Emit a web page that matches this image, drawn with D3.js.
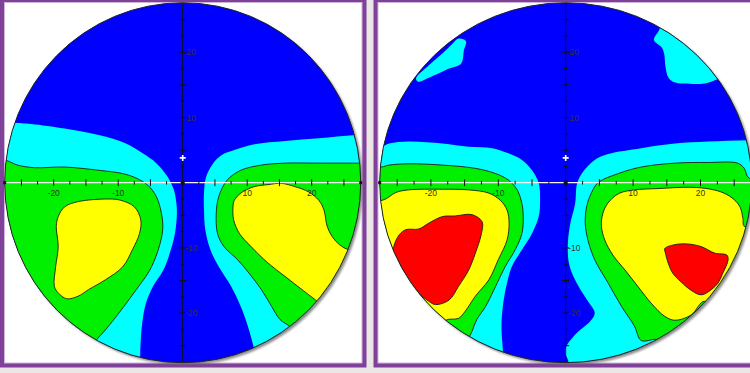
<!DOCTYPE html>
<html><head><meta charset="utf-8">
<script src="https://cdn.jsdelivr.net/npm/d3@7"></script>
<style>html,body{margin:0;padding:0;background:#ece6e6;} svg{display:block}</style>
</head><body><svg id="c" width="750" height="373"></svg>
<script>
// ---- data (units of the plot axes) ----
const levelColors = ["#0000ff", "#00ffff", "#00f000", "#ffff00", "#ff0000"];
const xTickLabels = [-20, -10, 10, 20];
const yTickLabels = [20, 10, -10, -20];
const R = 27.6;                 // radius of the plot domain
const markerPoint = [0, 3.8];   // white cross marker

// Left panel contour regions
const A_cyan = [
  [[-34,9.3],[-26.4,9.2],[-23.5,9.0],[-18.3,8.3],[-13.0,7.3],[-8.8,6.0],[-6.2,4.5],[-4.1,3.0],[-2.4,1.0],[-1.4,-1.0],[-1.0,-3.0],[-0.9,-4.7],[-1.2,-7.8],[-2.0,-10.8],[-3.0,-13.4],[-4.6,-15.9],[-5.7,-18.5],[-6.2,-21.0],[-6.5,-24.1],[-6.6,-27.4],[-6.6,-32],[-34,-32]],
  [[12.5,-32],[11.1,-25.6],[10.1,-22.0],[9.0,-19.0],[7.5,-15.9],[5.6,-12.9],[4.3,-10.3],[3.5,-7.2],[3.3,-4.2],[3.3,-1.6],[3.6,0.8],[4.6,2.8],[6.0,4.2],[8.0,5.0],[11.1,5.9],[15.9,6.4],[21.1,6.8],[26.9,7.3],[34,7.5],[34,-32]]
];
const A_green = [
  [[-34,3.5],[-27.7,3.5],[-25.6,2.7],[-23.0,2.3],[-18.3,2.4],[-13.0,1.9],[-9.3,1.4],[-7.2,0.7],[-5.4,-0.4],[-4.1,-2.1],[-3.3,-4.7],[-3.1,-7.2],[-3.8,-10.3],[-5.1,-13.4],[-7.2,-16.4],[-9.9,-20.0],[-12.0,-22.6],[-13.5,-24.3],[-15.6,-28.2],[-34,-32]],
  [[34,3.0],[27.7,3.0],[21.1,3.0],[15.9,3.0],[12.2,2.7],[9.0,1.9],[6.9,0.4],[5.6,-2.1],[5.2,-4.7],[5.4,-7.8],[6.4,-9.8],[8.5,-11.8],[10.3,-13.9],[12.2,-16.4],[13.8,-19.0],[15.1,-21.0],[16.9,-22.3],[18.5,-25.1],[22,-32],[34,-32]]
];
const A_yellow = [
  [[-18.3,-3.7],[-16.2,-2.9],[-11.4,-2.5],[-9.6,-2.7],[-7.5,-3.7],[-6.5,-5.7],[-6.7,-7.8],[-7.8,-10.3],[-9.3,-12.9],[-12.0,-14.9],[-14.6,-16.4],[-16.2,-17.4],[-18.0,-17.8],[-19.3,-16.9],[-19.9,-15.9],[-19.7,-12.9],[-19.3,-9.8],[-19.6,-6.7],[-19.3,-5.2]],
  [[8.0,-2.7],[9.0,-1.6],[11.1,-0.6],[13.2,-0.3],[15.3,-0.1],[17.4,-0.6],[19.5,-1.4],[21.1,-2.7],[21.9,-4.2],[22.4,-6.7],[23.2,-8.3],[24.3,-9.5],[25.8,-10.3],[32,-11],[28,-24],[23.7,-20.5],[20.6,-18.0],[18.5,-16.4],[15.9,-14.4],[13.2,-12.3],[10.6,-9.8],[8.8,-7.8],[7.9,-5.7],[7.8,-3.7]]
];
const A_red = [];

// Right panel contour regions
const B_cyan = [
  [[-15.9,22.1],[-14.8,21.7],[-15.1,20.3],[-15.5,18.3],[-17.3,17.5],[-20.3,16.1],[-21.9,15.5],[-22.2,16.0],[-20.3,18.0],[-18.3,19.8],[-16.8,21.3]],
  [[13.1,21.9],[13.9,23.5],[16,30],[30,20],[22.1,15.7],[20.6,15.2],[17.6,15.2],[15.9,15.5],[15.2,16.2],[14.8,17.8],[14.6,19.8],[14.2,20.8]],
  [[-34,5.5],[-27.4,5.5],[-26.2,6.0],[-23.3,6.3],[-18.3,6.0],[-14.4,5.5],[-10.9,5.3],[-8.5,4.5],[-6.5,3.5],[-5.0,1.9],[-4.0,-0.1],[-3.8,-2.7],[-4.0,-5.2],[-5.0,-7.8],[-6.5,-10.3],[-8.0,-12.9],[-8.7,-15.4],[-9.2,-18.0],[-9.5,-21.0],[-9.5,-23.1],[-9.3,-26.1],[-9.3,-32],[-34,-32]],
  [[34,6.5],[27.1,6.5],[21.1,6.3],[16.2,6.0],[11.2,5.3],[6.3,4.4],[4.3,3.5],[2.6,1.7],[1.7,-0.1],[1.4,-3.2],[0.6,-6.7],[0.3,-10.1],[0.6,-12.9],[1.9,-15.9],[3.3,-18.2],[4.3,-20.0],[3.6,-21.3],[1.6,-23.1],[0.1,-25.1],[-0.1,-26.1],[0.4,-27.4],[1,-32],[34,-32]]
];
const B_green = [
  [[-34,2.4],[-27.4,2.4],[-26.2,2.7],[-23.3,2.9],[-18.3,2.7],[-13.4,2.2],[-10.4,1.4],[-8.5,0.4],[-7.2,-1.1],[-6.5,-3.2],[-6.3,-5.2],[-6.5,-7.8],[-7.5,-10.3],[-9.0,-12.9],[-10.4,-15.9],[-11.9,-19.0],[-13.2,-21.0],[-13.9,-22.8],[-14.9,-25.1],[-16,-32],[-34,-32]],
  [[34,0],[27.2,0.7],[26.5,2.2],[25.5,3.0],[21.1,3.1],[16.2,3.0],[11.2,2.4],[7.8,1.4],[4.8,0.0],[3.8,-1.6],[3.1,-3.7],[2.9,-6.2],[3.3,-8.8],[4.3,-11.8],[6.3,-15.4],[8.3,-19.0],[10.2,-22.0],[11.2,-24.2],[13.7,-24.1],[15.2,-26.1],[34,-32]]
];
const B_yellow = [
  [[-34,-2.7],[-27.2,-2.7],[-25.2,-1.5],[-23.3,-1.1],[-18.3,-1.0],[-14.4,-1.1],[-11.4,-1.6],[-9.7,-2.7],[-8.7,-4.2],[-8.4,-6.2],[-8.7,-8.8],[-10.0,-11.8],[-11.4,-14.9],[-13.4,-17.4],[-14.9,-19.7],[-15.9,-20.8],[-17.8,-21.1],[-19.8,-23.6],[-34,-30]],
  [[5.8,-3.9],[6.6,-2.7],[8.0,-1.6],[10.2,-1.1],[13.7,-0.9],[18.6,-0.7],[21.5,-1.0],[23.5,-1.6],[25.0,-2.6],[25.9,-3.8],[26.3,-5.5],[26.5,-6.7],[34,-8],[24,-24],[20.6,-18.2],[18.6,-20.3],[16.2,-21.1],[14.7,-20.5],[12.7,-18.5],[10.7,-15.9],[8.8,-13.4],[7.0,-11.1],[5.8,-8.8],[5.3,-6.7],[5.4,-5.2]]
];
const B_red = [
  [[-25.5,-9.8],[-24.7,-8.0],[-23.7,-7.2],[-21.8,-7.1],[-20.3,-6.2],[-18.3,-5.2],[-16.4,-5.1],[-13.9,-4.9],[-12.4,-6.0],[-12.5,-7.8],[-13.4,-10.8],[-14.4,-13.4],[-15.9,-15.9],[-17.3,-18.0],[-19.3,-18.7],[-20.3,-18.2],[-21.8,-16.9],[-23.3,-14.9],[-24.7,-12.3],[-25.5,-10.8]],
  [[14.7,-10.1],[16.2,-9.5],[18.1,-9.4],[20.1,-9.8],[22.1,-10.8],[23.9,-11.1],[24.1,-11.8],[23.3,-13.9],[22.6,-15.4],[21.6,-16.4],[20.1,-17.2],[18.6,-16.5],[17.1,-15.2],[15.9,-13.9],[15.2,-12.3],[14.8,-10.8]]
];

// ---- layout ----
const panels = [
  {id: "A", cx: 182.7, cy: 182.7, kx: 6.45, ky: 6.52,
   frame: {x0: 0, y0: 0, x1: 366.5, y1: 367.5}, levels: [A_cyan, A_green, A_yellow, A_red]},
  {id: "B", cx: 565.7, cy: 182.7, kx: 6.74, ky: 6.52,
   frame: {x0: 373.5, y0: 0, x1: 770, y1: 367.5}, levels: [B_cyan, B_green, B_yellow, B_red]}
];

const svg = d3.select("#c");
svg.append("rect").attr("width", 750).attr("height", 373).attr("fill", "#ece6e6");
const defs = svg.append("defs");
defs.append("filter").attr("id", "blur").attr("x", "-10%").attr("y", "-10%").attr("width", "120%").attr("height", "120%")
  .append("feGaussianBlur").attr("stdDeviation", 1.3);

panels.forEach(p => {
  const x = d3.scaleLinear().domain([-R, R]).range([p.cx - R * p.kx, p.cx + R * p.kx]);
  const y = d3.scaleLinear().domain([-R, R]).range([p.cy + R * p.ky, p.cy - R * p.ky]);
  const rx = x(R) - x(0), ry = y(0) - y(R);
  const f = p.frame;

  // frame
  svg.append("rect").attr("x", f.x0).attr("y", f.y0).attr("width", f.x1 - f.x0).attr("height", f.y1 - f.y0).attr("fill", "#7f4199");
  svg.append("rect").attr("x", f.x0 + 4.5).attr("y", f.y0 + 2.5).attr("width", f.x1 - f.x0 - 9).attr("height", f.y1 - f.y0 - 7)
    .attr("fill", "#ffffff").attr("stroke", "#cdb6da").attr("stroke-width", 1);

  defs.append("clipPath").attr("id", "clip" + p.id)
    .append("ellipse").attr("cx", x(0)).attr("cy", y(0)).attr("rx", rx).attr("ry", ry);

  const g = svg.append("g");
  // shadow
  g.append("ellipse").attr("cx", x(0) + 2.2).attr("cy", y(0) + 2.2).attr("rx", rx).attr("ry", ry)
    .attr("fill", "#666").attr("opacity", 0.75).attr("filter", "url(#blur)");
  g.append("ellipse").attr("cx", x(0)).attr("cy", y(0)).attr("rx", rx).attr("ry", ry).attr("fill", levelColors[0]);

  const line = d3.line().x(d => x(d[0])).y(d => y(d[1])).curve(d3.curveCatmullRomClosed.alpha(0.5));
  const cg = g.append("g").attr("clip-path", "url(#clip" + p.id + ")");
  p.levels.forEach((polys, li) => {
    cg.selectAll(null).data(polys).enter().append("path")
      .attr("d", line)
      .attr("fill", levelColors[li + 1])
      .attr("stroke", li === 0 ? "none" : "#1c1c1c")
      .attr("stroke-width", 0.9)
      .attr("stroke-linejoin", "round");
  });

  g.append("ellipse").attr("cx", x(0)).attr("cy", y(0)).attr("rx", rx).attr("ry", ry)
    .attr("fill", "none").attr("stroke", "#222").attr("stroke-width", 1);

  // axes
  const ticks = d3.range(-25, 25.01, 2.5).filter(v => v !== 0);
  g.append("line").attr("x1", x(-R)).attr("x2", x(R)).attr("y1", y(0)).attr("y2", y(0))
    .attr("stroke", "#f2f2f2").attr("stroke-width", 1.2);
  g.append("line").attr("x1", x(0)).attr("x2", x(0)).attr("y1", y(R) + 1).attr("y2", y(-R) - 1)
    .attr("stroke", "#111").attr("stroke-width", 1);
  g.selectAll(null).data(ticks).enter().append("line")
    .attr("x1", d => x(d)).attr("x2", d => x(d))
    .attr("y1", d => y(0) - (d % 5 === 0 ? 3.5 : 1.8)).attr("y2", d => y(0) + (d % 5 === 0 ? 3.5 : 1.8))
    .attr("stroke", "#111").attr("stroke-width", 1);
  g.selectAll(null).data(ticks).enter().append("line")
    .attr("y1", d => y(d)).attr("y2", d => y(d))
    .attr("x1", d => x(0) - (d % 5 === 0 ? 3.5 : 1.8)).attr("x2", d => x(0) + (d % 5 === 0 ? 3.5 : 1.8))
    .attr("stroke", "#111").attr("stroke-width", 1);
  // end / centre dots
  g.selectAll(null).data([-R, R]).enter().append("rect")
    .attr("x", d => x(d) - 1.5).attr("y", y(0) - 1.5).attr("width", 3).attr("height", 3).attr("fill", "#111");
  g.append("rect").attr("x", x(0) - 2).attr("y", y(0) - 2).attr("width", 4).attr("height", 4).attr("fill", "#111");

  // labels
  g.selectAll(null).data(xTickLabels).enter().append("text")
    .attr("x", d => x(d)).attr("y", y(0) + 13).attr("text-anchor", "middle")
    .attr("font-family", "Liberation Sans, Arial, sans-serif").attr("font-size", 8.5).attr("fill", "#333")
    .text(d => d);
  g.selectAll(null).data(yTickLabels).enter().append("text")
    .attr("x", d => x(0) + (d < 0 ? 2.5 : 3.8)).attr("y", d => y(d) + 3).attr("text-anchor", "start")
    .attr("font-family", "Liberation Sans, Arial, sans-serif").attr("font-size", 8.5).attr("fill", "#333")
    .text(d => d);

  // white cross marker
  const mx = x(markerPoint[0]), my = y(markerPoint[1]);
  g.append("path").attr("d", `M${mx - 3},${my}H${mx + 3}M${mx},${my - 3}V${my + 3}`)
    .attr("stroke", "#ffffff").attr("stroke-width", 1.6);
});
</script></body></html>
